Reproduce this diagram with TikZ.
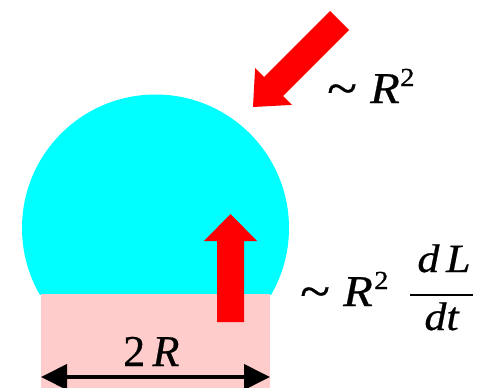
\documentclass[tikz,border=0pt]{standalone}
\usepackage{fontspec}
\setmainfont{Liberation Serif}
\newfontfamily\lblfont[FakeStretch=1.1,FakeBold=0.6]{Liberation Serif}
\newfontfamily\basefont[FakeBold=0.6]{Liberation Serif}
\usetikzlibrary{arrows.meta}
\definecolor{drop}{HTML}{00FFFF}
\definecolor{film}{HTML}{FFCCCC}
\begin{document}
\begin{tikzpicture}[x=1pt,y=-1pt,
  txt/.style={inner sep=0pt, anchor=base west},
  ctxt/.style={inner sep=0pt, anchor=base},
  big/.style={font=\lblfont\fontsize{44}{44}\selectfont},
  tld/.style={font=\lblfont\fontsize{50}{50}\selectfont},
  sup/.style={font=\lblfont\fontsize{26}{26}\selectfont},
  frac/.style={font=\lblfont\fontsize{40}{40}\selectfont},
  flow/.style={fill=red, draw=none}]
\useasboundingbox (0,0) rectangle (477,388);
% drop (cap of a sphere)
\begin{scope}
  \clip (0,0) rectangle (477,294);
  \fill[drop] (155.5,228) circle (133.5pt);
\end{scope}
% film
\fill[film] (41,294) rectangle (270,388);
% incoming flux arrow (diagonal)
\fill[flow] (349,30) -- (330,11) -- (264,77) -- (255.1,68.1) -- (253,107)
  -- (291.9,104.9) -- (283,96) -- cycle;
% outgoing flux arrow (up)
\fill[flow] (217,322) -- (217,241) -- (204,241) -- (230.5,214) -- (257,241)
  -- (244,241) -- (244,322) -- cycle;
% width arrow
\coordinate (wl) at (41,377);
\coordinate (wr) at (270,377);
\draw[line width=4pt, {Triangle[length=26pt,width=25pt]}-{Triangle[length=26pt,width=25pt]}] (wl) -- (wr);
\node[txt, font=\basefont\fontsize{44}{44}\selectfont] (width) at (123,366) {2\,\textit{R}};
% top label
\node[txt, tld] (t1) at (327,105) {\textasciitilde};
\node[txt, big] (r1) at (370,103) {\textit{R}};
\node[txt, sup] (s1) at (400,86) {2};
% right label
\node[txt, tld] (t2) at (300,308) {\textasciitilde};
\node[txt, big] (r2) at (343,306) {\textit{R}};
\node[txt, sup] (s2) at (374,289) {2};
\node[ctxt, frac] (num) at (444,272) {\textit{d\,L}};
\node[ctxt, frac] (den) at (442,330) {\textit{dt}};
\coordinate (bl) at (410,295);
\coordinate (br) at (473,295);
\draw[line width=2pt] (bl) -- (br);
\end{tikzpicture}
\end{document}
